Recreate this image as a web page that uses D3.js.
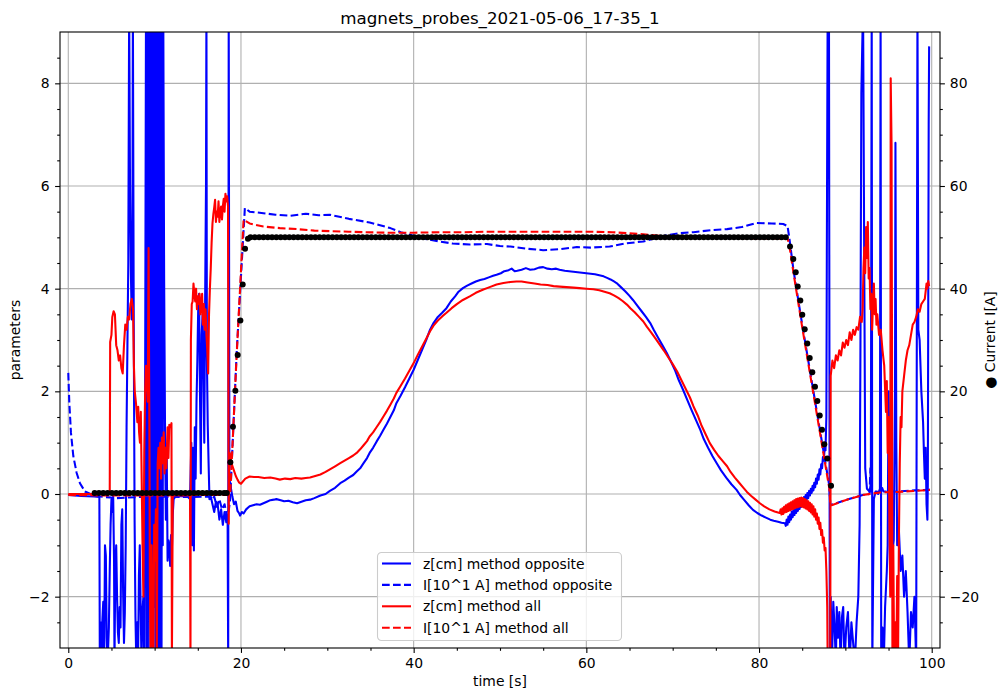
<!DOCTYPE html>
<html>
<head>
<meta charset="utf-8">
<script src="https://cdn.jsdelivr.net/npm/d3@7"></script>
<style>
  body { margin: 0; background: #fff; }
  svg { display: block; }
  text { font-family: "DejaVu Sans", sans-serif; fill: #000; }
</style>
</head>
<body>
<svg id="chart" width="1001" height="692"></svg>
<script>
// ---- labels and ticks ----
const chartTitle = "magnets_probes_2021-05-06_17-35_1";
const xLabel = "time [s]";
const yLabelLeft = "parameters";
const yLabelRight = "\u25CF Current I[A]";
const xTicks = [0, 20, 40, 60, 80, 100];
const xMinorTicks = [5, 10, 15, 25, 30, 35, 45, 50, 55, 65, 70, 75, 85, 90, 95];
const leftTicks = [-2, 0, 2, 4, 6, 8];
const leftMinorTicks = [-2.5, -1.5, -1, -0.5, 0.5, 1, 1.5, 2.5, 3, 3.5, 4.5, 5, 5.5, 6.5, 7, 7.5, 8.5];
const rightTicks = [-20, 0, 20, 40, 60, 80];
const rightMinorTicks = [-25, -15, -10, -5, 5, 10, 15, 25, 30, 35, 45, 50, 55, 65, 70, 75, 85];
const legendNames = ["z[cm] method opposite", "I[10^1 A] method opposite", "z[cm] method all", "I[10^1 A] method all"];

// ---- z[cm], method "opposite"  ([time s, value]) ----
const zOpposite = [
  [0,-0.02],[1.5,-0.04],[3.0,-0.05],[3.6,-0.06],[3.65,-3.3],[3.75,-2.5],[3.85,-3.3],[3.95,-2.45],[4.05,-2.1],[4.15,-3.3],
  [4.25,-1.0],[4.35,-1.2],[4.45,-2.8],[4.55,-3.3],[4.7,-2.6],[4.8,-1.5],[4.9,-0.6],[5.0,-0.1],[5.1,-0.35],[5.2,-0.05],
  [5.3,-1.3],[5.35,-3.3],[5.45,-1.4],[5.55,-1.0],[5.65,-2.0],[5.75,-2.7],[5.85,-2.9],[5.95,-2.2],[6.05,-2.6],[6.15,-0.6],
  [6.25,-0.3],[6.35,-1.9],[6.45,-2.9],[6.55,-2.3],[6.65,-1.0],[6.75,1.3],[6.85,2.9],[6.95,4.5],[7.05,9.5],[7.15,6.0],
  [7.25,4.3],[7.35,3.4],[7.42,4.0],[7.48,9.5],[7.58,3.3],[7.68,-0.5],[7.78,-2.4],[7.88,-3.3],[7.98,-2.5],[8.08,-3.3],
  [8.18,-1.6],[8.28,-1.0],[8.38,-2.2],[8.48,-3.3],[8.58,-2.3],[8.7,-2.0],[8.8,-3.3],[8.9,2.0],
  [9.0,9.5],[9.08,-3.3],[9.15,9.5],[9.22,-3.3],[9.3,9.5],[9.37,-1.5],[9.44,9.5],[9.51,-3.3],[9.58,9.5],[9.65,-3.3],
  [9.72,9.5],[9.8,-3.3],[9.87,9.5],[9.94,-2.2],[10.0,9.5],[10.08,-3.3],[10.15,9.5],[10.22,-3.3],[10.3,9.5],[10.37,-3.3],
  [10.44,9.5],[10.51,-3.3],[10.58,9.5],[10.65,-3.3],[10.72,9.5],[10.8,-3.3],[10.87,9.5],[10.94,-1.0],[11.0,9.5],
  [11.1,4.2],[11.2,1.4],[11.3,-0.5],[11.4,0.8],[11.5,-1.3],[11.6,-0.9],[11.7,-1.0],[11.8,-1.4],[11.9,-0.8],[12.0,-1.1],
  [12.1,-0.4],[12.2,-0.1],[12.4,-0.05],[13.0,-0.04],[13.8,-0.05],[14.1,-0.1],[14.25,1.0],[14.35,-1.0],[14.45,0.9],[14.55,-1.1],
  [14.65,1.3],[14.75,0.3],[14.85,1.8],[14.95,2.6],[15.05,3.65],[15.15,3.9],[15.25,2.0],[15.35,0.4],[15.45,3.1],[15.55,3.5],
  [15.65,2.4],[15.75,1.0],[15.85,3.8],[15.95,6.0],[16.0,9.5],[16.05,2.7],[16.15,1.35],[16.25,0.6],[16.35,-0.1],[16.5,-0.05],
  [16.7,-0.2],[16.9,-0.35],[17.1,-0.15],[17.3,-0.2],[17.5,-0.5],[17.7,-0.3],[17.9,-0.6],[18.1,-0.35],[18.3,-0.55],[18.45,-0.4],
  [18.52,-3.3],[18.58,9.5],[18.66,0.3],[18.8,0.15],[19.0,-0.05],[19.2,-0.2],[19.4,-0.15],[19.6,-0.33],[19.8,-0.38],[19.9,-0.42],
  [20.1,-0.35],[20.3,-0.38],[20.6,-0.3],[21.0,-0.24],[21.4,-0.22],[21.8,-0.2],[22.2,-0.21],[22.6,-0.18],[23.0,-0.15],[23.4,-0.12],
  [23.8,-0.11],[24.1,-0.1],[24.6,-0.12],[25.0,-0.14],[25.5,-0.13],[26.0,-0.16],[26.5,-0.18],[27.0,-0.15],[27.5,-0.12],[28.0,-0.11],
  [28.5,-0.08],[29.2,-0.03],[29.8,0.0],[30.3,0.06],[30.9,0.12],[31.5,0.21],[32.0,0.26],[32.5,0.32],[33.0,0.37],[33.4,0.44],
  [33.8,0.5],[34.2,0.6],[34.6,0.7],[34.9,0.8],[35.3,0.9],[35.7,1.02],[36.1,1.13],[36.5,1.25],[36.9,1.37],[37.3,1.5],
  [37.7,1.63],[38.0,1.77],[38.5,1.92],[39.0,2.08],[39.5,2.25],[40.0,2.42],[40.5,2.62],[41.0,2.82],[41.5,3.02],[41.9,3.2],
  [42.3,3.33],[42.8,3.45],[43.3,3.53],[43.8,3.62],[44.3,3.75],[44.8,3.85],[45.2,3.94],[45.7,4.01],[46.2,4.06],[46.7,4.1],
  [47.2,4.14],[47.7,4.17],[48.2,4.19],[48.7,4.22],[49.2,4.25],[49.6,4.27],[50.1,4.3],[50.5,4.34],[51.0,4.36],[51.35,4.39],
  [51.7,4.34],[52.0,4.35],[52.5,4.37],[53.0,4.4],[53.5,4.37],[54.0,4.38],[54.5,4.41],[55.0,4.42],[55.5,4.39],[56.0,4.38],
  [56.5,4.39],[56.9,4.37],[57.5,4.35],[58.0,4.34],[58.5,4.33],[59.0,4.32],[59.5,4.31],[60.0,4.3],[60.5,4.29],[61.0,4.28],
  [61.5,4.26],[62.0,4.24],[62.4,4.21],[62.8,4.18],[63.2,4.14],[63.5,4.11],[64.0,4.03],[64.5,3.95],[65.0,3.86],[65.4,3.78],
  [65.9,3.67],[66.4,3.56],[66.9,3.45],[67.4,3.33],[67.8,3.2],[68.3,3.05],[68.8,2.9],[69.3,2.75],[69.8,2.58],[70.3,2.4],
  [70.7,2.22],[71.2,2.03],[71.7,1.83],[72.2,1.63],[72.7,1.44],[73.2,1.25],[73.6,1.07],[74.1,0.9],[74.6,0.74],[75.1,0.6],
  [75.6,0.46],[76.2,0.32],[76.8,0.19],[77.4,0.08],[77.8,-0.02],[78.3,-0.12],[78.8,-0.22],[79.3,-0.31],[79.8,-0.37],[80.3,-0.42],
  [80.8,-0.46],[81.3,-0.5],[81.7,-0.52],[82.2,-0.54],[82.6,-0.56],
  [83.0,-0.57],[83.1,-0.62],[83.2,-0.5],[83.3,-0.6],[83.4,-0.44],[83.5,-0.55],[83.6,-0.4],[83.7,-0.5],[83.8,-0.34],[83.9,-0.45],
  [84.0,-0.3],[84.1,-0.41],[84.2,-0.26],[84.3,-0.37],[84.4,-0.22],[84.5,-0.33],[84.6,-0.18],[84.7,-0.29],[84.8,-0.14],[84.9,-0.25],
  [85.0,-0.1],[85.1,-0.21],[85.2,-0.06],[85.3,-0.17],[85.4,-0.02],[85.5,-0.13],[85.6,0.02],[85.7,-0.08],[85.8,0.06],[85.9,-0.03],
  [86.0,0.1],[86.1,0.02],[86.2,0.16],[86.3,0.07],[86.4,0.22],[86.5,0.13],[86.6,0.3],[86.7,0.2],[86.8,0.38],[86.9,0.28],
  [87.0,0.48],[87.1,0.38],[87.2,0.58],[87.3,0.5],[87.4,0.72],[87.5,0.65],[87.6,0.9],[87.7,0.85],[87.8,1.5],
  [87.85,4.5],[87.95,9.5],[88.1,9.5],[88.2,-3.3],[88.3,-2.0],
  [88.45,-3.3],[88.6,-2.1],[88.75,-2.6],[88.9,-3.3],[89.0,-2.2],[89.15,-2.8],[89.3,-2.3],[89.45,-3.3],[89.6,-2.4],[89.75,-2.2],
  [89.9,-3.3],[90.1,-2.6],[90.3,-2.3],[90.5,-3.3],[90.7,-2.5],[90.9,-2.9],[91.1,-3.3],[91.3,-2.5],[91.5,-2.0],[91.65,-0.6],
  [91.75,3.0],[91.85,7.8],[91.95,8.7],[92.05,9.5],[92.2,4.0],[92.3,0.5],[92.5,0.1],[92.8,0.05],[92.95,0.2],[93.05,9.5],
  [93.12,-3.3],[93.3,-0.1],[93.5,0.05],[93.8,0.0],[94.0,0.1],[94.08,9.5],[94.15,-3.3],[94.3,-2.6],[94.45,-3.3],[94.6,-2.2],
  [94.8,-1.5],[94.9,-1.0],[95.0,2.0],[95.1,0.9],[95.2,-0.3],[95.4,-1.2],[95.6,-0.9],[95.75,2.0],[95.8,6.84],[95.9,1.0],
  [96.0,-1.0],[96.2,-0.7],[96.4,-1.5],[96.6,-1.2],[96.8,-2.0],[97.0,-1.5],[97.2,-2.3],[97.4,-3.3],[97.6,-2.3],[97.8,-2.6],
  [98.0,-2.0],[98.2,-3.3],[98.35,9.5],[98.45,3.2],[98.6,3.0],[98.8,2.0],[99.0,1.4],[99.1,0.8],[99.2,0.3],[99.3,0.9],
  [99.4,-0.2],[99.5,-0.5],[99.55,0.2],[99.65,7.2],[99.7,8.72]
];

// ---- I[10^1 A], method "opposite" ----
const iOpposite = [
  [0,2.36],[0.12,1.77],[0.31,1.19],[0.58,0.74],[0.97,0.41],[1.35,0.21],[1.93,0.05],[2.71,-0.01],[3.67,-0.05],[5.6,-0.08],
  [8.0,-0.06],[11.0,-0.05],[14.0,-0.06],[16.3,-0.05],[16.6,-0.12],[16.9,-0.05],[17.2,-0.25],[17.5,-0.1],[17.8,-0.3],[18.1,-0.2],
  [18.4,-0.45],[18.6,-0.3],[18.75,-0.1],[19.5,2.75],[20.45,5.57],[21.0,5.5],[22.6,5.47],[24.0,5.44],[25.7,5.42],[27.5,5.46],
  [29.0,5.43],[30.3,5.44],[32.5,5.36],[34.9,5.29],[36.0,5.24],[37.3,5.18],[38.5,5.1],[39.6,5.05],[41.0,4.98],[43.0,4.92],
  [44.5,4.88],[46.5,4.86],[48.5,4.87],[50.0,4.83],[51.2,4.82],[53.0,4.78],[55.0,4.75],[57.0,4.77],[58.9,4.81],[60.5,4.8],
  [62.7,4.82],[64.5,4.88],[66.6,4.92],[68.0,4.98],[69.3,5.04],[70.8,5.08],[72.4,5.1],[74.5,5.14],[76.3,5.16],[78.0,5.2],
  [79.7,5.28],[81.5,5.27],[82.8,5.26],[83.3,5.22],[83.5,5.0],[84.0,4.35],[85.0,3.3],[86.0,2.3],[87.0,1.3],[87.6,0.7],
  [88.15,0.15],[88.25,-0.2],[88.4,-0.21],[90.0,-0.12],[92.0,-0.02],[92.8,0.0],[92.9,0.5],[93.0,0.05],[93.5,0.05],[94.0,0.04],
  [94.2,0.15],[94.4,0.05],[96.0,0.05],[98.0,0.07],[99.8,0.08]
];

// ---- z[cm], method "all" ----
const zAll = [
  [0,0],[4.8,0],[4.85,2.96],[5.0,3.1],[5.1,3.45],[5.25,3.56],[5.4,3.5],[5.55,2.9],[5.7,2.8],[5.85,2.6],
  [6.0,2.7],[6.15,2.45],[6.3,2.35],[6.45,2.9],[6.6,3.3],[6.75,3.2],[6.9,3.45],[7.05,3.4],[7.2,3.7],[7.35,3.8],
  [7.5,3.6],[7.6,2.5],[7.7,2.0],[7.85,1.75],[8.0,1.4],[8.1,1.7],[8.2,1.2],[8.3,1.0],[8.4,1.6],[8.5,0.3],
  [8.6,-1.0],[8.7,-2.0],[8.8,0.8],[8.9,2.0],[9.0,2.5],[9.1,2.2],[9.2,1.8],[9.3,4.79],[9.4,1.0],[9.45,-1.7],
  [9.55,-3.3],[9.65,-1.0],[9.75,-2.4],[9.85,-3.3],[9.95,-0.6],[10.05,-1.3],[10.15,-0.3],[10.25,-3.3],[10.35,0.6],[10.45,0.9],
  [10.55,0.5],[10.65,1.0],[10.75,0.3],[10.85,1.1],[10.95,0.6],[11.05,1.2],[11.15,0.4],[11.25,0.9],[11.35,0.5],[11.5,1.3],
  [11.6,0.7],[11.7,1.35],[11.85,1.3],[11.95,1.38],[12.0,-3.3],[12.1,-0.03],[13.0,-0.02],[14.1,-0.03],[14.15,-3.3],[14.2,3.0],
  [14.3,3.7],[14.4,3.75],[14.5,4.1],[14.6,3.9],[14.7,3.75],[14.8,4.0],[14.9,3.6],[15.0,3.85],[15.1,3.7],[15.2,3.9],
  [15.3,3.5],[15.4,3.7],[15.5,3.9],[15.6,3.3],[15.7,3.7],[15.8,3.2],[15.9,3.6],[16.0,3.1],[16.1,2.8],[16.2,2.35],
  [16.3,3.5],[16.4,4.0],[16.5,4.4],[16.6,4.9],[16.7,5.27],[16.8,5.45],[16.9,5.58],[17.0,5.73],[17.1,5.3],[17.2,5.5],
  [17.3,5.4],[17.4,5.7],[17.5,5.3],[17.6,5.5],[17.7,5.6],[17.8,5.35],[17.9,5.6],[18.0,5.75],[18.1,5.5],[18.2,5.85],
  [18.3,5.7],[18.4,5.8],[18.5,5.6],[18.58,-0.58],[18.62,0.65],[18.7,0.8],[18.8,0.72],[18.9,0.6],[19.0,0.55],[19.2,0.45],
  [19.4,0.35],[19.6,0.28],[19.8,0.22],[20.0,0.2],[20.5,0.3],[21.0,0.34],[21.5,0.33],[22.0,0.33],[22.7,0.31],[23.4,0.32],
  [24.0,0.3],[24.5,0.28],[25.1,0.3],[25.7,0.29],[26.3,0.31],[27.0,0.3],[27.5,0.31],[28.0,0.32],[28.6,0.35],[29.2,0.38],
  [29.8,0.43],[30.3,0.48],[30.9,0.54],[31.5,0.6],[32.0,0.65],[32.5,0.7],[33.0,0.75],[33.4,0.8],[33.8,0.87],[34.2,0.95],
  [34.6,1.03],[34.9,1.12],[35.3,1.2],[35.7,1.3],[36.1,1.4],[36.5,1.51],[36.9,1.62],[37.3,1.74],[37.7,1.86],[38.0,1.97],
  [38.5,2.11],[39.0,2.25],[39.5,2.4],[40.0,2.55],[40.5,2.72],[41.0,2.88],[41.5,3.04],[41.9,3.17],[42.3,3.28],[42.8,3.38],
  [43.3,3.46],[43.8,3.53],[44.4,3.62],[45.0,3.7],[45.7,3.78],[46.5,3.85],[47.2,3.92],[48.0,3.98],[48.8,4.03],[49.6,4.08],
  [50.4,4.11],[51.2,4.13],[51.9,4.14],[52.5,4.14],[53.2,4.12],[54.0,4.1],[54.7,4.08],[55.5,4.07],[56.2,4.05],[56.9,4.04],
  [57.7,4.03],[58.5,4.02],[59.2,4.01],[60.0,4.0],[60.8,3.99],[61.5,3.97],[62.1,3.94],[62.7,3.91],[63.2,3.87],[63.7,3.82],
  [64.2,3.76],[64.7,3.69],[65.1,3.62],[65.6,3.54],[66.1,3.45],[66.6,3.36],[67.0,3.26],[67.5,3.15],[68.0,3.03],[68.5,2.91],
  [69.0,2.79],[69.5,2.66],[70.0,2.53],[70.5,2.39],[71.0,2.22],[71.5,2.05],[72.0,1.88],[72.4,1.71],[72.9,1.53],[73.3,1.35],
  [73.8,1.17],[74.3,0.99],[74.8,0.86],[75.3,0.74],[75.8,0.64],[76.3,0.54],[76.7,0.43],[77.2,0.32],[77.7,0.22],[78.2,0.12],
  [78.6,0.04],[79.1,-0.04],[79.6,-0.11],[80.1,-0.18],[80.6,-0.24],[81.2,-0.3],[81.8,-0.34],
  [82.4,-0.37],[82.5,-0.3],[82.6,-0.4],[82.7,-0.28],[82.8,-0.39],[82.9,-0.25],[83.0,-0.36],[83.1,-0.22],[83.2,-0.35],[83.3,-0.2],
  [83.4,-0.33],[83.5,-0.18],[83.6,-0.32],[83.7,-0.16],[83.8,-0.3],[83.9,-0.14],[84.0,-0.29],[84.1,-0.12],[84.2,-0.27],[84.3,-0.1],
  [84.4,-0.26],[84.5,-0.09],[84.6,-0.25],[84.7,-0.08],[84.8,-0.24],[84.9,-0.07],[85.0,-0.25],[85.1,-0.08],[85.2,-0.26],[85.3,-0.1],
  [85.4,-0.28],[85.5,-0.12],[85.6,-0.3],[85.7,-0.14],[85.8,-0.33],[85.9,-0.17],[86.0,-0.36],[86.1,-0.2],[86.2,-0.4],[86.3,-0.24],
  [86.4,-0.44],[86.5,-0.3],[86.6,-0.5],[86.7,-0.38],[86.8,-0.58],[86.9,-0.46],[87.0,-0.68],[87.1,-0.56],[87.2,-0.8],[87.3,-0.7],
  [87.4,-0.95],[87.5,-0.85],[87.6,-1.1],[87.7,-1.05],[87.8,-1.5],[87.9,-2.2],[87.95,-3.3],
  [88.25,-3.3],[88.3,2.3],[88.5,2.6],[88.7,2.45],[88.9,2.7],[89.1,2.6],[89.3,2.8],[89.5,2.7],[89.7,2.95],
  [89.9,2.85],[90.1,3.0],[90.3,2.9],[90.5,3.15],[90.7,3.0],[90.9,3.2],[91.1,3.1],[91.3,3.25],[91.5,3.2],[91.7,3.45],
  [91.9,3.35],[92.0,3.6],[92.1,4.4],[92.2,4.8],[92.3,4.3],[92.4,5.2],[92.5,4.6],[92.6,5.3],[92.7,4.2],[92.8,4.4],
  [92.9,3.6],[93.0,3.9],[93.1,3.2],[93.2,3.7],[93.3,4.1],[93.4,3.5],[93.5,3.8],[93.6,3.3],[93.7,3.5],[93.9,3.1],
  [94.1,3.2],[94.3,2.8],[94.5,2.5],[94.7,1.6],[94.8,2.2],[94.9,0.8],[95.0,1.5],[95.1,-0.5],[95.2,-2.0],[95.25,8.1],
  [95.35,6.8],[95.4,3.0],[95.45,-3.3],[95.55,-1.0],[95.65,-3.3],[95.8,-2.5],[95.9,-3.3],[96.0,-1.6],[96.1,-3.3],[96.2,-0.9],
  [96.3,0.6],[96.4,1.5],[96.5,1.3],[96.6,2.0],[96.8,2.3],[97.0,2.6],[97.2,2.8],[97.4,2.9],[97.6,3.1],[97.8,3.3],
  [98.0,3.35],[98.2,3.45],[98.4,3.6],[98.6,3.55],[98.8,3.7],[99.0,3.75],[99.2,3.8],[99.4,4.1],[99.5,4.0],[99.6,4.15],
  [99.7,4.05]
];

// ---- I[10^1 A], method "all" ----
const iAll = [
  [0,-0.02],[5.0,-0.03],[10.0,-0.03],[15.0,-0.02],[18.75,-0.02],[19.5,2.7],[20.3,5.34],[21.0,5.27],[22.6,5.21],[24.5,5.18],
  [26.5,5.16],[28.5,5.13],[30.3,5.12],[32.5,5.11],[34.2,5.1],[37.0,5.09],[40.0,5.09],[43.0,5.1],[45.7,5.1],[49.0,5.11],
  [52.3,5.11],[56.0,5.11],[60.0,5.11],[63.0,5.1],[66.6,5.06],[68.5,5.03],[70.0,5.0],[73.0,4.99],[76.0,4.99],[79.0,4.98],
  [82.0,4.98],[83.3,4.98],[83.5,4.85],[84.0,4.3],[85.0,3.25],[86.0,2.25],[87.0,1.25],[87.6,0.65],[88.15,0.1],[88.25,-0.2],
  [88.4,-0.22],[90.0,-0.12],[92.0,-0.02],[94.0,0.03],[96.0,0.04],[98.0,0.06],[99.8,0.08]
];

// ---- coil current I[A] samples (right axis) ----
const currentSamples = [
  [3.05,0.2],[3.55,0.2],[4.05,0.2],[4.55,0.2],[5.05,0.2],[5.55,0.2],[6.05,0.2],[6.55,0.2],[7.05,0.2],[7.55,0.2],
  [8.05,0.2],[8.55,0.2],[9.05,0.2],[9.55,0.2],[10.05,0.2],[10.55,0.2],[11.05,0.2],[11.55,0.2],[12.05,0.2],[12.55,0.2],
  [13.05,0.2],[13.55,0.2],[14.05,0.2],[14.55,0.2],[15.05,0.2],[15.55,0.2],[16.05,0.2],[16.55,0.2],[17.05,0.2],[17.55,0.2],
  [18.05,0.2],[18.35,0.2],
  [18.77,6.2],[19.07,13.1],[19.35,20.1],[19.62,27.1],[19.93,33.8],[20.2,40.8],[20.47,47.8],[20.81,49.7],
  [21.1,50],[21.6,50],[22.1,50],[22.6,50],[23.1,50],[23.6,50],[24.1,50],[24.6,50],[25.1,50],[25.6,50],
  [26.1,50],[26.6,50],[27.1,50],[27.6,50],[28.1,50],[28.6,50],[29.1,50],[29.6,50],[30.1,50],[30.6,50],
  [31.1,50],[31.6,50],[32.1,50],[32.6,50],[33.1,50],[33.6,50],[34.1,50],[34.6,50],[35.1,50],[35.6,50],
  [36.1,50],[36.6,50],[37.1,50],[37.6,50],[38.1,50],[38.6,50],[39.1,50],[39.6,50],[40.1,50],[40.6,50],
  [41.1,50],[41.6,50],[42.1,50],[42.6,50],[43.1,50],[43.6,50],[44.1,50],[44.6,50],[45.1,50],[45.6,50],
  [46.1,50],[46.6,50],[47.1,50],[47.6,50],[48.1,50],[48.6,50],[49.1,50],[49.6,50],[50.1,50],[50.6,50],
  [51.1,50],[51.6,50],[52.1,50],[52.6,50],[53.1,50],[53.6,50],[54.1,50],[54.6,50],[55.1,50],[55.6,50],
  [56.1,50],[56.6,50],[57.1,50],[57.6,50],[58.1,50],[58.6,50],[59.1,50],[59.6,50],[60.1,50],[60.6,50],
  [61.1,50],[61.6,50],[62.1,50],[62.6,50],[63.1,50],[63.6,50],[64.1,50],[64.6,50],[65.1,50],[65.6,50],
  [66.1,50],[66.6,50],[67.1,50],[67.6,50],[68.1,50],[68.6,50],[69.1,50],[69.6,50],[70.1,50],[70.6,50],
  [71.1,50],[71.6,50],[72.1,50],[72.6,50],[73.1,50],[73.6,50],[74.1,50],[74.6,50],[75.1,50],[75.6,50],
  [76.1,50],[76.6,50],[77.1,50],[77.6,50],[78.1,50],[78.6,50],[79.1,50],[79.6,50],[80.1,50],[80.6,50],
  [81.1,50],[81.6,50],[82.1,50],[82.6,50],[83.1,50],
  [83.59,48.2],[83.97,45.8],[84.25,43.2],[84.48,40.4],[84.78,37.7],[85.01,34.9],[85.29,32.1],[85.59,29.3],[85.87,26.5],[86.17,23.7],
  [86.48,20.9],[86.75,18.1],[87.03,15.3],[87.29,12.5],[87.56,9.7],[87.91,6.9],[88.34,1.6]
];

// ---- drawing ----
const W = 1001, H = 692;
const box = { x0: 60, x1: 940, y0: 32, y1: 648 };
const svg = d3.select("#chart");

const x = d3.scaleLinear().domain([-0.96, 100.96]).range([box.x0, box.x1]);
const yL = d3.scaleLinear().domain([-3, 9]).range([box.y1, box.y0]);
const yR = d3.scaleLinear().domain([-30, 90]).range([box.y1, box.y0]);

svg.append("rect").attr("width", W).attr("height", H).attr("fill", "#fff");

svg.append("defs").append("clipPath").attr("id", "plotClip")
  .append("rect").attr("x", box.x0).attr("y", box.y0)
  .attr("width", box.x1 - box.x0).attr("height", box.y1 - box.y0);

// grid
const grid = svg.append("g").attr("stroke", "#b0b0b0").attr("stroke-width", 1.1);
grid.append("g").selectAll("line").data(xTicks).join("line")
  .attr("x1", d => x(d)).attr("x2", d => x(d)).attr("y1", box.y0).attr("y2", box.y1);
grid.append("g").selectAll("line").data(leftTicks).join("line")
  .attr("x1", box.x0).attr("x2", box.x1).attr("y1", d => yL(d)).attr("y2", d => yL(d));

// traces
const plot = svg.append("g").attr("clip-path", "url(#plotClip)");
const line = d3.line().x(d => x(d[0])).y(d => yL(d[1]));
const traces = [
  { data: zOpposite, color: "#0000ff", dashed: false },
  { data: iOpposite, color: "#0000ff", dashed: true },
  { data: zAll, color: "#ff0000", dashed: false },
  { data: iAll, color: "#ff0000", dashed: true }
];
traces.forEach(t => {
  plot.append("path")
    .attr("d", line(t.data))
    .attr("fill", "none")
    .attr("stroke", t.color)
    .attr("stroke-width", 2.08)
    .attr("stroke-linejoin", "round")
    .attr("stroke-dasharray", t.dashed ? "7.7,3.3" : null);
});

// axes helpers
function styleAxis(g) {
  g.select(".domain").remove();
  g.attr("font-family", "DejaVu Sans").attr("font-size", 13.9);
  g.selectAll(".tick line").attr("stroke", "#000").attr("stroke-width", 1.1);
  g.selectAll(".tick text").attr("fill", "#000");
}
const fmt = d3.format("d");

svg.append("g").attr("transform", `translate(0,${box.y1})`)
  .call(d3.axisBottom(x).tickValues(xTicks).tickFormat(fmt).tickSize(4.9).tickPadding(4.9))
  .call(styleAxis);
svg.append("g").attr("transform", `translate(0,${box.y1})`)
  .call(d3.axisBottom(x).tickValues(xMinorTicks).tickFormat("").tickSize(2.8))
  .call(styleAxis);

svg.append("g").attr("transform", `translate(${box.x0},0)`)
  .call(d3.axisLeft(yL).tickValues(leftTicks).tickFormat(fmt).tickSize(4.9).tickPadding(5.6))
  .call(styleAxis);
svg.append("g").attr("transform", `translate(${box.x0},0)`)
  .call(d3.axisLeft(yL).tickValues(leftMinorTicks).tickFormat("").tickSize(2.8))
  .call(styleAxis);

svg.append("g").attr("transform", `translate(${box.x1},0)`)
  .call(d3.axisRight(yR).tickValues(rightTicks).tickFormat(fmt).tickSize(4.9).tickPadding(4.9))
  .call(styleAxis);
svg.append("g").attr("transform", `translate(${box.x1},0)`)
  .call(d3.axisRight(yR).tickValues(rightMinorTicks).tickFormat("").tickSize(2.8))
  .call(styleAxis);

// frame
svg.append("rect")
  .attr("x", box.x0).attr("y", box.y0)
  .attr("width", box.x1 - box.x0).attr("height", box.y1 - box.y0)
  .attr("fill", "none").attr("stroke", "#000").attr("stroke-width", 1.1);

// legend
const legend = svg.append("g").attr("transform", "translate(377.5,552.5)");
legend.append("rect")
  .attr("width", 244).attr("height", 88).attr("rx", 4).attr("ry", 4)
  .attr("fill", "#fff").attr("fill-opacity", 0.8)
  .attr("stroke", "#cccccc").attr("stroke-width", 1.1);
traces.forEach((t, i) => {
  const cy = 11 + i * 21.4;
  legend.append("line")
    .attr("x1", 4.5).attr("x2", 33.5).attr("y1", cy).attr("y2", cy)
    .attr("stroke", t.color).attr("stroke-width", 2.08)
    .attr("stroke-dasharray", t.dashed ? "7.7,3.3" : null);
  legend.append("text")
    .attr("x", 45.5).attr("y", cy + 5)
    .attr("font-size", 13.9)
    .text(legendNames[i]);
});

// current samples on the twin axis
svg.append("g").attr("clip-path", "url(#plotClip)")
  .selectAll("circle").data(currentSamples).join("circle")
  .attr("cx", d => x(d[0])).attr("cy", d => yR(d[1]))
  .attr("r", 3).attr("fill", "#000");

// titles
svg.append("text").attr("x", (box.x0 + box.x1) / 2).attr("y", 24)
  .attr("text-anchor", "middle").attr("font-size", 16.7).text(chartTitle);
svg.append("text").attr("x", (box.x0 + box.x1) / 2).attr("y", 686)
  .attr("text-anchor", "middle").attr("font-size", 13.9).text(xLabel);
svg.append("text")
  .attr("transform", `translate(20,${(box.y0 + box.y1) / 2}) rotate(-90)`)
  .attr("text-anchor", "middle").attr("font-size", 13.9).text(yLabelLeft);
svg.append("text")
  .attr("transform", `translate(995,${(box.y0 + box.y1) / 2}) rotate(-90)`)
  .attr("text-anchor", "middle").attr("font-size", 13.9).text(yLabelRight);
</script>
</body>
</html>
